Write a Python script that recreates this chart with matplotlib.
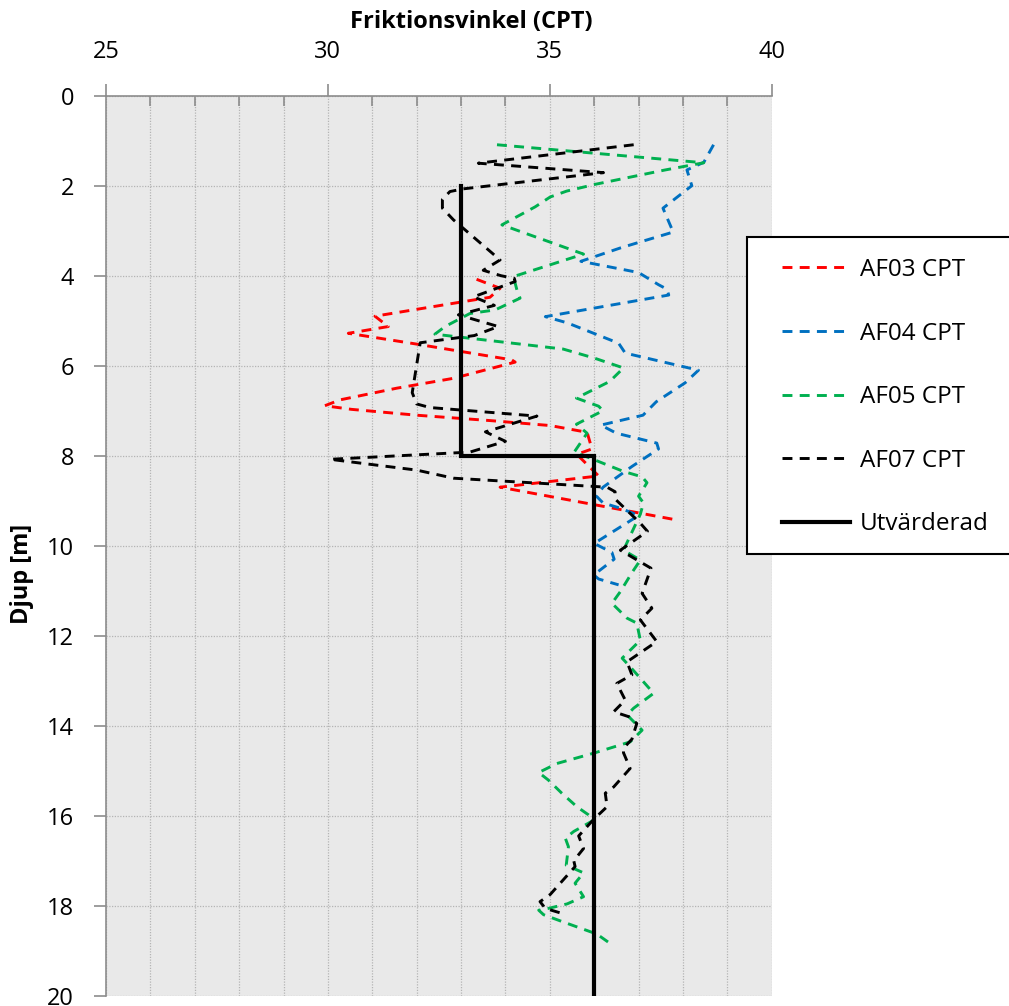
import matplotlib
matplotlib.use("Agg")
import matplotlib.pyplot as plt
from matplotlib.patches import Rectangle

plt.rcParams['font.family'] = ['Open Sans', 'DejaVu Sans']

# ---------------- data ----------------
af03_depth = [4.08, 4.28, 4.48, 4.90, 5.13, 5.28, 5.52, 5.87, 5.92, 6.28, 6.50, 6.76, 6.89,
              6.97, 7.10, 7.22, 7.33, 7.48, 7.85, 7.97, 8.45, 8.70, 9.43]
af03_val = [33.35, 33.88, 33.65, 31.06, 31.36, 30.46, 32.0, 34.14, 34.22, 32.83, 31.55, 30.27, 29.93,
            30.53, 32.0, 33.66, 35.01, 35.84, 35.95, 35.61, 36.1, 33.88, 37.87]

af04_depth = [1.09, 1.48, 1.65, 2.00, 2.50, 3.03, 3.38, 3.68, 3.93, 4.20, 4.30, 4.43, 4.91, 5.05,
              5.50, 5.72, 6.10, 6.38, 6.80, 7.10, 7.32, 7.50, 7.72, 7.85, 8.24, 8.70, 8.90, 9.05,
              9.17, 9.33, 9.95, 10.15, 10.30, 10.65, 10.74, 10.87]
af04_val = [38.69, 38.47, 38.09, 38.20, 37.55, 37.78, 36.60, 35.70, 37.00, 37.45, 37.64, 37.68, 34.90, 35.40,
            36.55, 36.70, 38.35, 38.05, 37.40, 37.10, 36.15, 36.50, 37.41, 37.45, 36.85, 36.20, 36.05, 36.20,
            36.60, 37.00, 36.00, 36.40, 36.45, 35.99, 36.10, 36.55]

af05_depth = [1.09, 1.49, 1.65, 1.97, 2.12, 2.25, 2.47, 2.87, 3.52, 4.02, 4.32, 4.50, 4.76, 4.84,
              5.13, 5.30, 5.63, 5.83, 6.05, 6.35, 6.72, 6.90, 7.00, 7.30, 7.50, 7.92, 8.05, 8.35,
              8.47, 8.60, 8.90, 9.05, 9.30, 10.10, 10.32, 10.60, 11.02, 11.28, 11.61, 11.72, 12.10,
              12.50, 12.69, 13.28, 13.61, 13.76, 14.10, 14.36, 14.61, 14.84, 15.04, 15.21, 15.50,
              15.80, 15.98, 16.10, 16.35, 16.50, 16.69, 17.10, 17.27, 17.50, 17.80, 17.96, 18.06,
              18.10, 18.20, 18.35, 18.63, 18.84]
af05_val = [33.81, 38.47, 37.60, 36.02, 35.38, 35.01, 34.67, 33.92, 35.76, 34.18, 34.26, 34.33, 33.77, 33.20,
            32.64, 32.41, 35.30, 36.00, 36.66, 36.35, 35.60, 36.10, 36.20, 35.60, 35.84, 35.55, 35.90, 36.66,
            37.08, 37.19, 37.00, 37.11, 37.04, 36.66, 37.04, 36.85, 36.59, 36.40, 36.74, 36.96, 37.04,
            36.63, 36.81, 37.34, 36.89, 36.74, 37.08, 36.81, 35.99, 35.16, 34.75, 34.97, 35.27,
            35.61, 35.87, 35.99, 35.54, 35.35, 35.42, 35.37, 35.76, 35.57, 35.76, 35.39, 34.97,
            34.75, 34.86, 35.27, 36.06, 36.36]

af07_depth = [1.09, 1.50, 1.71, 2.07, 2.13, 2.30, 2.50, 2.76, 3.65, 3.88, 4.00, 4.06, 4.13, 4.47,
              4.66, 4.87, 5.13, 5.33, 5.49, 6.60, 6.85, 6.93, 7.12, 7.47, 7.68, 7.92, 8.08, 8.21,
              8.32, 8.50, 8.70, 8.80, 8.97, 9.50, 9.68, 10.10, 10.50, 11.06, 11.39, 11.65, 12.13,
              12.58, 12.87, 13.06, 13.43, 13.69, 13.80, 13.95, 14.30, 14.50, 14.60, 14.95, 15.36,
              15.50, 15.80, 16.08, 16.45, 16.73, 17.00, 17.13, 17.75, 17.91, 18.06, 18.17]
af07_val = [36.89, 33.39, 36.21, 33.05, 32.75, 32.58, 32.58, 32.83, 33.88, 33.50, 33.90, 34.20, 34.22, 33.28,
            33.75, 32.94, 33.84, 33.30, 32.08, 31.90, 32.00, 32.30, 34.71, 33.55, 34.00, 33.20, 30.05, 31.10,
            32.00, 32.83, 36.29, 36.47, 36.48, 37.04, 37.20, 36.59, 37.28, 37.08, 37.30, 37.04, 37.41,
            36.74, 36.85, 36.51, 36.70, 36.44, 36.78, 36.96, 36.85, 36.66, 36.66, 36.81, 36.44,
            36.25, 36.29, 35.99, 35.65, 35.76, 35.54, 35.57, 35.01, 34.78, 34.90, 35.27]

utv_depth = [2, 8, 8, 20]
utv_val = [33, 33, 36, 36]

series_labels = ['AF03 CPT', 'AF04 CPT', 'AF05 CPT', 'AF07 CPT', 'Utvärderad']
x_ticks = [25, 30, 35, 40]
y_ticks = [0, 2, 4, 6, 8, 10, 12, 14, 16, 18, 20]

# ---------------- figure ----------------
W, H = 1009, 1006
fig = plt.figure(figsize=(W / 100, H / 100), dpi=100)
fig.patch.set_facecolor('white')

x0, x1 = 106.0, 771.7
y0, y1 = 95.7, 995.7
ax = fig.add_axes([x0 / W, 1 - y1 / H, (x1 - x0) / W, (y1 - y0) / H])
ax.set_facecolor('#E9E9E9')

dash = (3.4, 2.5)
lw = 2.1
colors = ['#FF0000', '#0070C0', '#00B050', '#000000']
data = [(af03_val, af03_depth), (af04_val, af04_depth), (af05_val, af05_depth), (af07_val, af07_depth)]
handles = []
for (v, d), c, lab in zip(data, colors, series_labels[:4]):
    h, = ax.plot(v, d, color=c, lw=lw, dashes=dash, label=lab, zorder=3)
    handles.append(h)
h, = ax.plot(utv_val, utv_depth, color='black', lw=3.0, label=series_labels[4], zorder=4,
             solid_joinstyle='miter')
handles.append(h)

ax.set_xlim(25, 40)
ax.set_ylim(20, 0)
ax.xaxis.tick_top()
ax.set_xticks(x_ticks)
ax.set_xticks(range(25, 41), minor=True)
ax.set_yticks(y_ticks)

grid_col = '#B4B4B4'
ax.grid(True, which='both', axis='x', color=grid_col, linestyle=(0, (1, 1.2)), lw=0.9, zorder=1)
ax.grid(True, which='major', axis='y', color=grid_col, linestyle=(0, (1, 1.2)), lw=0.9, zorder=1)
ax.set_axisbelow(True)

spine_col = '#8C8C8C'
for s in ['right', 'bottom']:
    ax.spines[s].set_visible(False)
for s in ['top', 'left']:
    ax.spines[s].set_color(spine_col)
    ax.spines[s].set_linewidth(1.2)

ax.tick_params(axis='x', which='major', direction='out', length=9, width=1.2, color=spine_col,
               labelsize=17, pad=14, top=True, bottom=False)
ax.tick_params(axis='x', which='minor', direction='in', length=7, width=1.2, color=spine_col,
               top=True, bottom=False)
ax.tick_params(axis='y', which='major', direction='out', length=9, width=1.2, color=spine_col,
               labelsize=17, pad=14)

ax.set_xlabel('Friktionsvinkel (CPT)', fontsize=17, fontweight='bold')
ax.xaxis.set_label_position('top')
ax.xaxis.set_label_coords((471 - x0) / (x1 - x0), 1 + (y0 - 22) / (y1 - y0))
ax.set_ylabel('Djup [m]', fontsize=17, fontweight='bold')
ax.yaxis.set_label_coords((22 - x0) / (x1 - x0), 1 - (574 - y0) / (y1 - y0))
ax.xaxis.label.set_va('center')
ax.yaxis.label.set_va('center')

# legend frame (extends past the right edge, as in the reference)
frame = Rectangle((747 / W, 1 - 554 / H), (1020 - 747) / W, (554 - 237) / H,
                  transform=fig.transFigure, facecolor='white', edgecolor='black', lw=1.5, zorder=1)
fig.patches.append(frame)

leg = fig.legend(handles=handles, labels=series_labels, loc='upper left',
                 bbox_to_anchor=(782 / W, 1 - 258 / H), bbox_transform=fig.transFigure,
                 frameon=False, fontsize=17.5, borderpad=0, borderaxespad=0,
                 handlelength=2.8, handletextpad=0.4, labelspacing=1.63)
leg.set_zorder(5)

fig.savefig('out.png', dpi=100)
